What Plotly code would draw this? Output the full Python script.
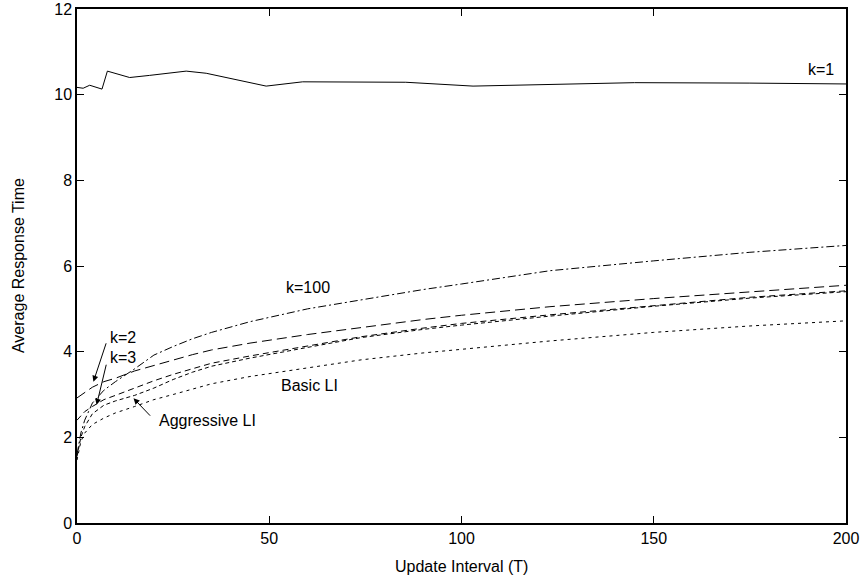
import plotly.graph_objects as go

# ---- data ----
k1_x = [0, 1.6, 3.3, 6.5, 7.9, 13.7, 18.9, 24.1, 28.4, 33.6, 49.2, 58.7, 73.5, 85.5, 103, 125, 145, 175, 200]
k1_y = [10.17, 10.15, 10.22, 10.13, 10.55, 10.40, 10.45, 10.51, 10.55, 10.50, 10.20, 10.30, 10.30, 10.29, 10.20, 10.25, 10.28, 10.27, 10.25]

t_x = [0, 1, 2, 4, 7, 10, 15, 20, 25, 30, 35, 45, 60, 74, 90, 100, 123, 150, 175, 200]
k2_y = [2.92, 2.98, 3.06, 3.17, 3.30, 3.38, 3.55, 3.68, 3.80, 3.93, 4.04, 4.20, 4.40, 4.57, 4.75, 4.85, 5.05, 5.24, 5.40, 5.55]
k3_y = [2.40, 2.50, 2.60, 2.72, 2.88, 2.98, 3.15, 3.32, 3.47, 3.60, 3.73, 3.90, 4.13, 4.35, 4.55, 4.66, 4.86, 5.08, 5.27, 5.42]
k100_y = [1.60, 2.10, 2.40, 2.80, 3.10, 3.30, 3.60, 3.92, 4.12, 4.30, 4.45, 4.70, 5.00, 5.21, 5.45, 5.58, 5.89, 6.12, 6.32, 6.48]
aggr_y = [1.55, 2.00, 2.25, 2.55, 2.75, 2.85, 2.98, 3.15, 3.35, 3.52, 3.66, 3.85, 4.10, 4.33, 4.52, 4.62, 4.83, 5.06, 5.25, 5.40]
basic_y = [1.47, 1.90, 2.10, 2.30, 2.45, 2.57, 2.72, 2.88, 3.00, 3.12, 3.25, 3.42, 3.62, 3.81, 3.97, 4.06, 4.25, 4.45, 4.60, 4.72]

x_ticks = [0, 50, 100, 150, 200]
y_ticks = [0, 2, 4, 6, 8, 10, 12]

x_title = "Update Interval (T)"
y_title = "Average Response Time"

FONT = "Liberation Sans, Arial, sans-serif"

fig = go.Figure()

def add_line(x, y, dash, name):
    fig.add_trace(go.Scatter(x=x, y=y, mode="lines", name=name,
                             line=dict(color="black", width=1, dash=dash),
                             showlegend=False))

add_line(k1_x, k1_y, "solid", "k=1")
add_line(t_x, k100_y, "8px,3px,2px,3px", "k=100")
add_line(t_x, k2_y, "10px,5px", "k=2")
add_line(t_x, k3_y, "6px,4px", "k=3")
add_line(t_x, aggr_y, "4px,3px", "Aggressive LI")
add_line(t_x, basic_y, "3px,4px", "Basic LI")

# text labels
labels = [
    ("k=1", 189.9, 10.58),
    ("k=100", 54.1, 5.49),
    ("k=2", 8.3, 4.33),
    ("k=3", 8.3, 3.86),
    ("Aggressive LI", 21.0, 2.40),
    ("Basic LI", 52.8, 3.22),
]
for txt, x, y in labels:
    fig.add_annotation(x=x, y=y, text=txt, showarrow=False, xanchor="left",
                       yanchor="middle", borderpad=0,
                       font=dict(family=FONT, size=16, color="black"))

# arrows: (tail_x, tail_y, head_x, head_y)
arrows = [
    (7.7, 4.23, 4.27, 3.30),
    (7.7, 3.73, 5.1, 2.76),
    (19.4, 2.47, 14.7, 2.91),
]
for tx, ty, hx, hy in arrows:
    fig.add_annotation(x=hx, y=hy, ax=tx, ay=ty, axref="x", ayref="y",
                       text="", showarrow=True, arrowhead=2, arrowsize=1.2,
                       arrowwidth=1, arrowcolor="black", standoff=0)

# axis titles as paper-positioned annotations
fig.add_annotation(xref="paper", yref="paper", x=0.5, y=-0.0837, text=x_title,
                   showarrow=False, xanchor="center", yanchor="middle",
                   font=dict(family=FONT, size=16, color="black"))
fig.add_annotation(xref="paper", yref="paper", x=-0.0767, y=0.5, text=y_title,
                   textangle=-90, showarrow=False, xanchor="center", yanchor="middle",
                   font=dict(family=FONT, size=16, color="black"))

fig.update_layout(
    width=860, height=577,
    margin=dict(l=77, r=14, t=9, b=54, autoexpand=False),
    paper_bgcolor="white", plot_bgcolor="white",
    font=dict(family=FONT, size=16, color="black"),
    xaxis=dict(range=[0, 200], tickvals=x_ticks, ticks="inside", ticklen=7,
               tickcolor="black", showline=True, linecolor="black", linewidth=1.5,
               mirror="allticks", showgrid=False, zeroline=False, automargin=False),
    yaxis=dict(range=[0, 12], tickvals=y_ticks, ticks="inside", ticklen=7,
               tickcolor="black", showline=True, linecolor="black", linewidth=1.5,
               mirror="allticks", showgrid=False, zeroline=False, automargin=False),
)

fig.write_html("out.html")
